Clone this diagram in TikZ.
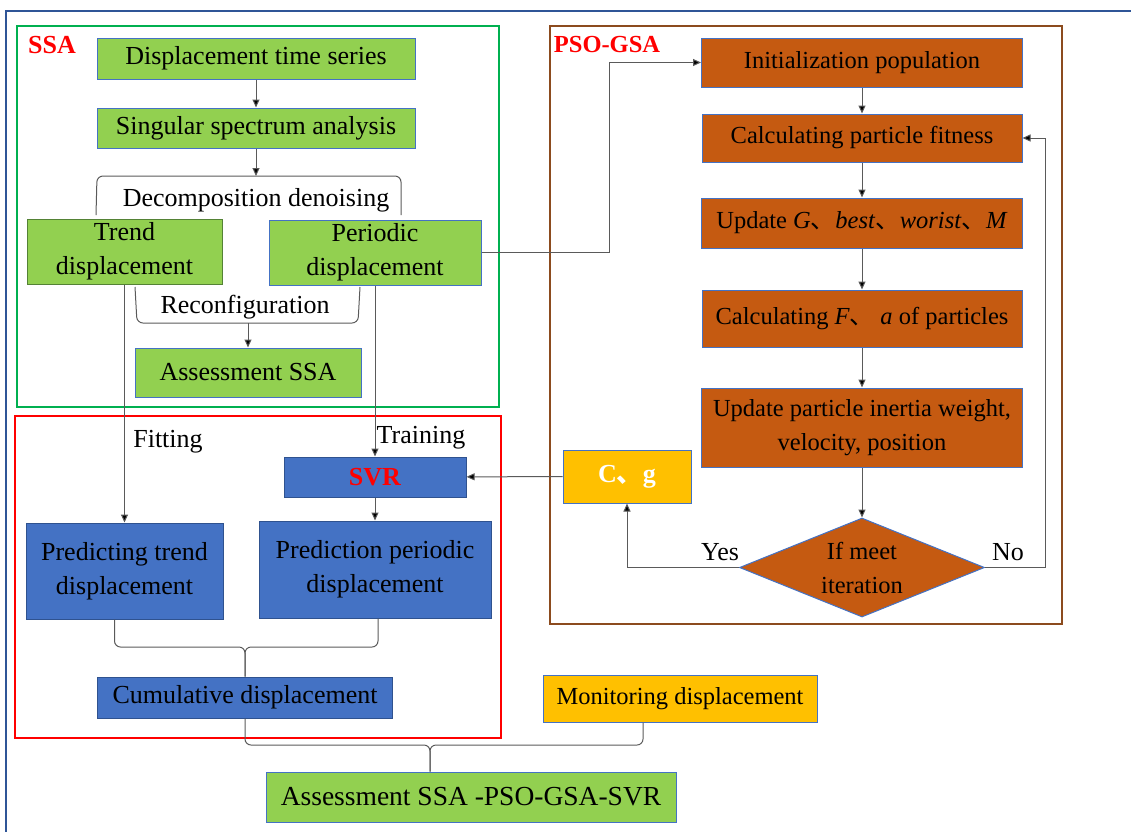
\documentclass[tikz,border=0pt]{standalone}
\usepackage{fontspec}
\setmainfont{Liberation Serif}
\newfontfamily\cjk{Noto Sans CJK SC}
\usetikzlibrary{arrows.meta,shapes.geometric}
\definecolor{ssagreen}{RGB}{146,208,80}
\definecolor{trendline}{RGB}{84,130,53}
\definecolor{svrblue}{RGB}{68,114,196}
\definecolor{svrline}{RGB}{47,82,143}
\definecolor{psobrown}{RGB}{197,90,17}
\definecolor{psoframe}{RGB}{140,75,30}
\definecolor{cgyellow}{RGB}{255,192,0}
\definecolor{outerblue}{RGB}{47,85,151}
\definecolor{framegreen}{RGB}{0,176,80}
\definecolor{linegray}{RGB}{90,90,90}
\tikzset{
  box/.style={rectangle, draw=svrblue, line width=1pt, inner sep=0pt, align=center},
  gbox/.style={box, fill=ssagreen},
  bbox/.style={box, fill=svrblue, draw=svrline},
  obox/.style={box, fill=psobrown, font=\fontsize{24.5}{34}\selectfont},
  ybox/.style={box, fill=cgyellow},
  frame/.style={line width=2pt},
  tag/.style={text=red, font=\fontsize{26}{30}\selectfont\bfseries},
  arr/.style={draw=linegray, line width=1pt, -{Triangle[length=8pt,width=7pt,fill=black]}},
  brace/.style={draw=linegray, line width=1pt, rounded corners=6pt},
}
\begin{document}
\begin{tikzpicture}[x=1pt, y=-1pt, font=\fontsize{26}{34}\selectfont]
\useasboundingbox (0,0) rectangle (1131,831);
\begin{scope}
\clip (0,0) rectangle (1131,831);
\draw[frame, draw=outerblue] (6,11) rectangle (1145,845);
\end{scope}
\draw[frame, draw=framegreen] (17,26) rectangle (499,407);
\draw[frame, draw=red] (15,416) rectangle (501,738);
\draw[frame, draw=psoframe] (550,26) rectangle (1062,624);
\node[tag] (ssatag) at (52,45) {SSA};
\node[tag, font=\fontsize{24.5}{30}\selectfont\bfseries] (psotag) at (607,45) {PSO-GSA};

\node[gbox, minimum width=318, minimum height=41] (series) at (256,58.5) {Displacement time series};
\node[gbox, minimum width=318, minimum height=40] (ssa) at (256,128) {Singular spectrum analysis};
\node (decomp) at (256,200) {Decomposition denoising};
\node[gbox, draw=trendline, minimum width=195, minimum height=65] (trend) at (124.5,251.5) {Trend\\displacement};
\node[gbox, minimum width=212, minimum height=65] (periodic) at (375,252.5) {Periodic\\displacement};
\node (reconf) at (245,307) {Reconfiguration};
\node[gbox, minimum width=226, minimum height=49] (assess) at (248,372.5) {Assessment SSA};

\node (fit) at (168,442) {Fitting};
\node (train) at (421,438) {Training};
\node[bbox, minimum width=182, minimum height=40] (svr) at (375,477) {\textcolor{red}{\bfseries SVR}};
\node[bbox, minimum width=197, minimum height=96] (predtrend) at (124.5,571) {Predicting trend\\displacement};
\node[bbox, minimum width=232, minimum height=97] (predper) at (375,569.5) {Prediction periodic\\displacement};
\node[bbox, minimum width=295, minimum height=41] (cumul) at (245,697.5) {Cumulative displacement};
\node[ybox, font=\fontsize{24.5}{34}\selectfont, minimum width=274, minimum height=47] (monitor) at (680,698.5) {Monitoring displacement};
\node[gbox, font=\fontsize{27.5}{34}\selectfont, minimum width=410, minimum height=50] (final) at (471,797) {Assessment SSA -PSO-GSA-SVR};

\node[obox, minimum width=321, minimum height=49] (init) at (862,62.5) {Initialization population};
\node[obox, minimum width=320, minimum height=48] (fitness) at (862,138) {Calculating particle fitness};
\node[obox, minimum width=321, minimum height=50] (update) at (862,223) {Update \textit{G}{\cjk 、}\textit{best}{\cjk 、}\textit{worist}{\cjk 、}\textit{M}};
\node[obox, minimum width=320, minimum height=57] (force) at (862,318.5) {Calculating \textit{F}{\cjk 、} \textit{a} of particles};
\node[obox, minimum width=321, minimum height=79] (inertia) at (862,427.5) {Update particle inertia weight,\\velocity, position};
\node[obox, diamond, aspect=2.47, minimum width=245, minimum height=99] (iter) at (862,567.5) {If meet\\iteration};
\node[ybox, minimum width=128, minimum height=53] (cg) at (627,476.5) {\textcolor{white}{\bfseries C{\cjk 、}g}};
\node (yes) at (720,552) {Yes};
\node (no) at (1008,552) {No};

\coordinate (dectop) at (256,176);
\coordinate (rectop) at (248,323);
\coordinate (tipa) at (245,647);
\coordinate (tipb) at (430,745);

\draw[arr] (series) -- (ssa);
\draw[arr] (ssa) -- (dectop);
\draw[brace] (96,215) -- (97,176) -- (401,176) -- (401,215);
\draw[brace] (135,287) -- (137,323) -- (358,323) -- (360,287);
\draw[arr] (rectop) -- (assess);
\draw[arr] (periodic.east) -- ++(128,0) |- (init.west);
\draw[arr] (trend.south) -- (predtrend.north);
\draw[arr] (periodic.south) -- (svr.north);
\draw[arr] (svr) -- (predper);
\draw[arr] (cg) -- (svr);
\draw[brace] ([xshift=-10]predtrend.south) |- (tipa) -- (cumul.north);
\draw[brace] ([xshift=3]predper.south) |- (tipa) -- (cumul.north);
\draw[brace] (cumul.south) |- (tipb) -- (tipb |- final.north);
\draw[brace] ([xshift=-37]monitor.south) |- (tipb) -- (tipb |- final.north);

\draw[arr] (init) -- (fitness);
\draw[arr] (fitness) -- (update);
\draw[arr] (update) -- (force);
\draw[arr] (force) -- (inertia);
\draw[arr] (inertia) -- (iter);
\draw[arr] (iter.east) -- ++(60,0) |- (fitness.east);
\draw[arr] (iter.west) -| (cg.south);
\end{tikzpicture}
\end{document}
